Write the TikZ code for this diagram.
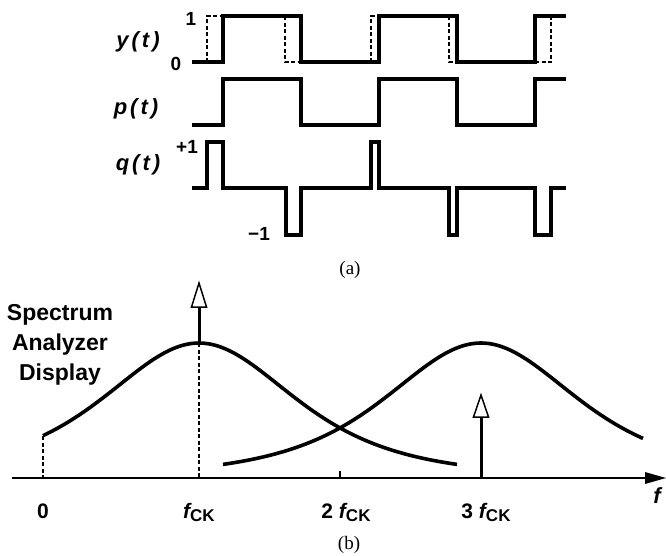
\documentclass[tikz,border=0pt]{standalone}
\usepackage{fontspec}
\setmainfont{Liberation Sans}
\newfontfamily\capfont{Liberation Serif}
\newcommand{\myfck}{{\itshape f}{\fontsize{17}{17}\selectfont\raisebox{-3pt}{CK}}}
\begin{document}
\begin{tikzpicture}[x=1pt,y=-1pt,
  wave/.style={line width=3.2pt},
  dsh/.style={line width=1.5pt, dash pattern=on 4pt off 2.5pt},
  curvestyle/.style={line width=3.6pt},
  lbl/.style={font=\fontsize{22}{26}\selectfont\bfseries\itshape, inner sep=0pt, anchor=base},
  num/.style={font=\fontsize{19}{22}\selectfont\bfseries, inner sep=0pt, anchor=base},
  axl/.style={font=\fontsize{21}{24}\selectfont\bfseries, inner sep=0pt, anchor=base},
  sptxt/.style={font=\fontsize{23}{26}\selectfont\bfseries, inner sep=0pt, anchor=base},
  captxt/.style={font=\fontsize{19}{22}\selectfont\capfont, inner sep=0pt, anchor=base},
  imp/.style={line width=3pt},
  ahead/.style={line width=1.5pt, fill=white}]
\useasboundingbox (0,0) rectangle (666,555);

% ---------- (a) waveforms ----------
\node[lbl] (ylab) at (138,47) {y\hspace{3pt}(\hspace{3pt}t\hspace{3pt})};
\node[lbl] (plab) at (136,114) {p\hspace{3pt}(\hspace{3pt}t\hspace{3pt})};
\node[lbl] (qlab) at (138,170) {q\hspace{3pt}(\hspace{3pt}t\hspace{3pt})};
\node[num] (one) at (191,25) {1};
\node[num] (zero) at (176,70) {0};
\node[num] (pone) at (187,153) {+1};
\node[num] (mone) at (259,240) {−1};

% y(t)
\draw[wave] (192,62) -- (223,62) -- (223,16) -- (301,16) -- (301,62) -- (379,62)
  -- (379,16) -- (457,16) -- (457,62) -- (535,62) -- (535,16) -- (566,16);
\draw[dsh] (207,62) -- (207,16) -- (223,16);
\draw[dsh] (285,16) -- (285,62) -- (301,62);
\draw[dsh] (371,62) -- (371,16) -- (379,16);
\draw[dsh] (449,16) -- (449,62) -- (457,62);
\draw[dsh] (535,62) -- (551,62) -- (551,16);

% p(t)
\draw[wave] (192,125) -- (223,125) -- (223,79) -- (301,79) -- (301,125) -- (379,125)
  -- (379,79) -- (457,79) -- (457,125) -- (535,125) -- (535,79) -- (566,79);

% q(t)
\draw[wave] (192,188) -- (207,188) -- (207,142) -- (223,142) -- (223,188) -- (286,188)
  -- (286,235) -- (301,235) -- (301,188) -- (371,188) -- (371,142) -- (379,142)
  -- (379,188) -- (449,188) -- (449,235) -- (457,235) -- (457,188) -- (535,188)
  -- (535,235) -- (551,235) -- (551,188) -- (566,188);

\node[captxt] (capa) at (350,274) {(a)};

% ---------- (b) spectrum ----------
\node[sptxt] (sp1) at (60,320) {Spectrum};
\node[sptxt] (sp2) at (60,350) {Analyzer};
\node[sptxt] (sp3) at (60,380) {Display};

% axis
\coordinate (o) at (12,478);
\coordinate (e) at (645,478);
\draw[line width=2pt] (o) -- (e);
\fill (645,472) -- (666,478) -- (645,484) -- cycle;
\node[lbl, font=\fontsize{22}{24}\selectfont\bfseries\itshape] (flab) at (657,503) {f};

% curves
\draw[curvestyle] plot[domain=43:457, samples=120, smooth] (\x, {478 - 135/(1+((\x-199)/176)^2)^2});
\draw[curvestyle] plot[domain=223:643, samples=120, smooth] (\x, {478 - 135/(1+((\x-481)/176)^2)^2});

% dashed verticals
\draw[dsh] (43,436) -- (43,478);
\draw[dsh] (199,343) -- (199,478);
\draw[line width=2pt] (340,478) -- (340,471);

% impulses
\draw[imp] (199,343) -- (199,306);
\draw[ahead] (199,283) -- (206.5,307) -- (191.5,307) -- cycle;
\draw[imp] (481,478) -- (481,416);
\draw[ahead] (481,395) -- (488.5,417) -- (473.5,417) -- cycle;

% labels
\node[axl] (l0) at (43,518) {0};
\node[axl] (l1) at (199,518) {\myfck};
\node[axl] (l2) at (346,518) {2 \myfck};
\node[axl] (l3) at (486,518) {3 \myfck};

\node[captxt] (capb) at (349,549) {(b)};
\end{tikzpicture}
\end{document}
